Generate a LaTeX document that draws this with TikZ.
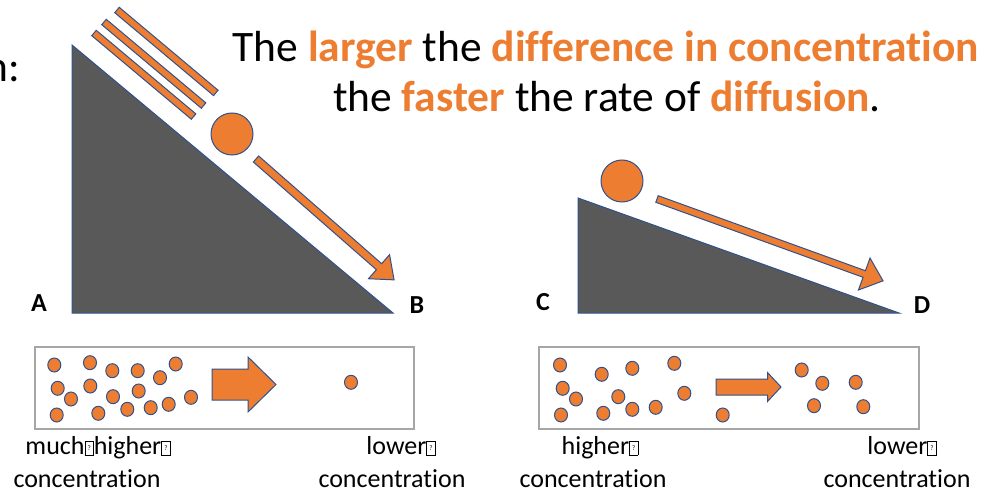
\documentclass[tikz,border=0pt]{standalone}
\usepackage{fontspec}
\setmainfont[Ligatures={NoCommon}]{Carlito}
\definecolor{org}{HTML}{ED7D31}
\definecolor{edge}{HTML}{2F528F}
\definecolor{slope}{HTML}{595959}
\definecolor{boxgray}{HTML}{A6A6A6}
\newcommand\hl[1]{\textcolor{org}{\bfseries #1}}
\newcommand\qbx{{\setlength\fboxsep{0.6pt}\setlength\fboxrule{0.5pt}\fbox{\rule{0pt}{12pt}\makebox[7pt]{\raisebox{3.5pt}{\fontsize{7}{7}\selectfont ?}}}}}
\newcommand\rod[3]{\draw[shp, shift={(#1,#2)}, rotate=-40] (0,-3.5) rectangle (#3,3.5);}
% start x, start y, angle, length, shaft width, head width, head length
\newcommand\blockarr[7]{\draw[shp, line join=miter, shift={(#1,#2)}, rotate=-#3]
  (0,-#5/2) -- (#4-#7,-#5/2) -- (#4-#7,-#6/2) -- (#4,0) -- (#4-#7,#6/2) -- (#4-#7,#5/2) -- (0,#5/2) -- cycle;}
\begin{document}
\begin{tikzpicture}[x=1pt,y=-1pt,
  ramp/.style={fill=slope, draw=edge, line width=1pt, line join=miter},
  shp/.style={fill=org, draw=edge, line width=1pt},
  dot/.style={fill=org, draw=edge, line width=1pt},
  tube/.style={draw=boxgray, line width=1.3pt},
  lbl/.style={font=\fontsize{26}{26}\selectfont\bfseries, inner sep=0pt},
  captxt/.style={font=\fontsize{26}{26}\selectfont, inner sep=0pt, anchor=base},
  ttl/.style={font=\fontsize{43.5}{43.5}\selectfont, inner sep=0pt, anchor=base}]
\useasboundingbox (0,0) rectangle (984,494);
\fill[white] (0,0) rectangle (984,494);

% partial text at left edge
\node[ttl, anchor=base east] (cut) at (20,82) {n:};

% ramps
\draw[ramp] (72,45) -- (72,313) -- (393,313) -- cycle;
\draw[ramp] (578,198) -- (578,313) -- (899,313) -- cycle;

% motion streaks
\rod{117}{10}{129}
\rod{104}{22}{130}
\rod{94}{33}{130}

% balls
\draw[dot] (232,134) circle[radius=21pt];
\draw[dot] (622,181) circle[radius=21pt];

% slope arrows
\blockarr{256}{159}{41.2}{183.5}{8}{32}{20}
\blockarr{657}{199}{19.9}{240.4}{7}{34}{20}

% corner labels
\node[lbl] (A) at (39,303) {A};
\node[lbl] (B) at (417,305) {B};
\node[lbl] (C) at (543,302) {C};
\node[lbl] (D) at (922,305) {D};

% title
\node[ttl] (t1) at (606,62) {The \hl{larger} the \hl{difference in concentration}};
\node[ttl] (t2) at (607,112) {the \hl{faster} the rate of \hl{diffusion}.};

% tubes
\draw[tube] (35,347) rectangle (414,429);
\draw[tube] (539,347) rectangle (919,429);

\foreach \x/\y in {54.3/365,90/362.7,112.3/370.7,137.7/370.7,160/377.7,175.7/364,
  57.7/388.3,90.3/386,71/399,113/396.7,138.7/391,191/397.3,
  56.7/415,98.3/413.3,127.3/409.3,150.7/407.7,168.7/404.3,351/382.3}
  \draw[dot] (\x,\y) ellipse[x radius=6.5pt, y radius=7pt];

\foreach \x/\y in {560/365,601.7/374.3,632.3/368.3,674.3/363.3,
  562.7/388.3,576/399,618.3/396.7,684.3/393.3,
  561/415,603.3/413.3,632.3/409.3,655.7/407.3,722.7/415,
  801.7/370,822.3/383.3,855.7/382.3,814/405.7,863.3/406.7}
  \draw[dot] (\x,\y) ellipse[x radius=6.5pt, y radius=7pt];

\blockarr{212}{384.5}{0}{64}{31}{55}{28}
\blockarr{716}{387}{0}{65}{16}{29}{13.5}

% captions
\node[captxt] (c1a) at (98,454) {much\qbx higher\qbx};
\node[captxt] (c1b) at (87,487) {concentration};
\node[captxt] (c2a) at (401,454) {lower\qbx};
\node[captxt] (c2b) at (392,487) {concentration};
\node[captxt] (c3a) at (600,454) {higher\qbx};
\node[captxt] (c3b) at (593,487) {concentration};
\node[captxt] (c4a) at (902,454) {lower\qbx};
\node[captxt] (c4b) at (897,487) {concentration};
\end{tikzpicture}
\end{document}
